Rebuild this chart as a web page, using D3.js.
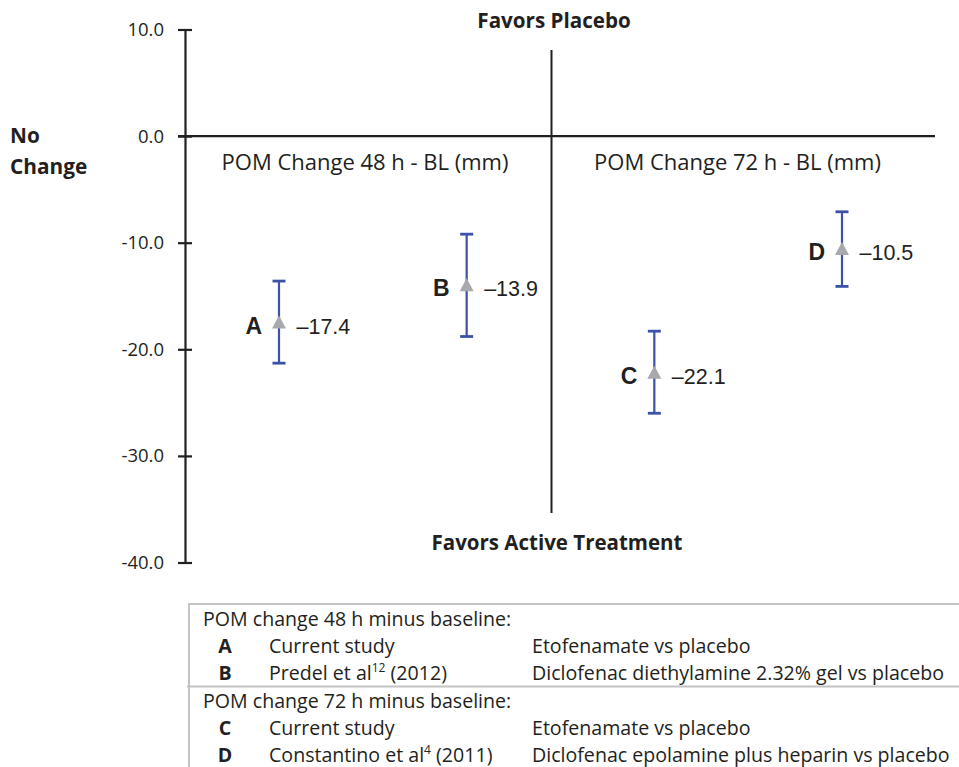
<!DOCTYPE html>
<html><head><meta charset="utf-8">
<script src="https://cdn.jsdelivr.net/npm/d3@7"></script>
<style>body{margin:0;background:#fff;} svg{display:block;}</style>
</head><body>
<svg id="c" width="959" height="767"></svg>
<script>
const studies = ["A","B","C","D"];
const groups = ["48 h","48 h","72 h","72 h"];
const means = [-17.4,-13.9,-22.1,-10.5];
const lower = [-21.3,-18.8,-26.0,-14.1];
const upper = [-13.6,-9.2,-18.3,-7.1];
const valueLabels = ["\u201317.4","\u201313.9","\u201322.1","\u201310.5"];
const yTicks = [10,0,-10,-20,-30,-40];
const panelTitles = ["POM Change 48 h - BL (mm)","POM Change 72 h - BL (mm)"];
const legendHeaders = ["POM change 48 h minus baseline:","POM change 72 h minus baseline:"];
const legendStudies = ["Current study","Predel et al","Current study","Constantino et al"];
const legendRefs = ["","12","","4"];
const legendYears = [""," (2012)",""," (2011)"];
const legendTreat = ["Etofenamate vs placebo","Diclofenac diethylamine 2.32% gel vs placebo","Etofenamate vs placebo","Diclofenac epolamine plus heparin vs placebo"];

const svg = d3.select("#c");
const CAL = "'Open Sans', 'Noto Sans', sans-serif";
const ARI = "'Liberation Sans', Arial, sans-serif";
const ink = "#231f20";

const y = d3.scaleLinear().domain([-40,10]).range([562.5,29.5]);
const x = d3.scalePoint().domain(studies).range([279,842]);
const axisX = 185;

// y axis
const ax = svg.append("g").attr("transform",`translate(${axisX},0)`)
  .call(d3.axisLeft(y).tickValues(yTicks).tickFormat(d=>d.toFixed(1)).tickSizeOuter(0).tickSize(7).tickPadding(14));
ax.select(".domain").attr("stroke",ink).attr("stroke-width",2.2);
ax.selectAll(".tick line").attr("x1",-7).attr("x2",7).attr("stroke",ink).attr("stroke-width",2.2);
ax.selectAll(".tick text").attr("font-family",CAL).attr("font-size",18.5).attr("fill",ink);

// zero line
svg.append("line").attr("x1",178).attr("x2",935).attr("y1",y(0)).attr("y2",y(0))
  .attr("stroke",ink).attr("stroke-width",2.2);
// vertical divider
svg.append("line").attr("x1",551.5).attr("x2",551.5).attr("y1",50).attr("y2",513)
  .attr("stroke",ink).attr("stroke-width",2);

// titles
svg.append("text").attr("x",554).attr("y",28).attr("text-anchor","middle")
  .attr("font-family",CAL).attr("font-weight","bold").attr("font-size",20.6).attr("fill",ink).text("Favors Placebo");
svg.append("text").attr("x",557).attr("y",550).attr("text-anchor","middle")
  .attr("font-family",CAL).attr("font-weight","bold").attr("font-size",20.5).attr("fill",ink).text("Favors Active Treatment");
const nc = svg.append("text").attr("font-family",CAL).attr("font-weight","bold").attr("font-size",20.8).attr("fill",ink);
nc.append("tspan").attr("x",10).attr("y",143).text("No");
nc.append("tspan").attr("x",10).attr("y",174).text("Change");

svg.selectAll(".ptitle").data(panelTitles).enter().append("text")
  .attr("x",(d,i)=>i===0?365:737.5).attr("y",170).attr("text-anchor","middle")
  .attr("font-family",CAL).attr("font-size",22).attr("fill",ink).text(d=>d);

// error bars
const blue = "#3b52a8";
const g = svg.append("g");
studies.forEach((s,i)=>{
  const cx = x(s);
  g.append("line").attr("x1",cx).attr("x2",cx).attr("y1",y(upper[i])).attr("y2",y(lower[i]))
    .attr("stroke",blue).attr("stroke-width",2.2);
  [upper[i],lower[i]].forEach(v=>{
    g.append("line").attr("x1",cx-6.5).attr("x2",cx+6.5).attr("y1",y(v)).attr("y2",y(v))
      .attr("stroke",blue).attr("stroke-width",2.8);
  });
  const ty = y(means[i]);
  g.append("path").attr("d",`M${cx},${ty-6}L${cx+7},${ty+7}L${cx-7},${ty+7}Z`).attr("fill","#a7a9ac");
  g.append("text").attr("x",cx-17).attr("y",ty+12).attr("text-anchor","end")
    .attr("font-family",ARI).attr("font-weight","bold").attr("font-size",23).attr("fill",ink).text(s);
  g.append("text").attr("x",cx+17.5).attr("y",ty+12)
    .attr("font-family",ARI).attr("font-size",21.5).attr("fill",ink).text(valueLabels[i]);
});

// legend table
const lg = svg.append("g");
const gray = "#c3c3c3";
lg.append("line").attr("x1",189).attr("x2",959).attr("y1",604).attr("y2",604).attr("stroke",gray).attr("stroke-width",2);
lg.append("line").attr("x1",189).attr("x2",189).attr("y1",603).attr("y2",767).attr("stroke",gray).attr("stroke-width",2);
lg.append("line").attr("x1",187).attr("x2",959).attr("y1",686.5).attr("y2",686.5).attr("stroke",gray).attr("stroke-width",2);

const fs = 19.6;
const headerY = [626,708];
legendHeaders.forEach((h,k)=>{
  lg.append("text").attr("x",203).attr("y",headerY[k]).attr("font-family",CAL).attr("font-size",fs).attr("fill",ink).text(h);
});
const rowY = [653,680,735,762];
studies.forEach((s,i)=>{
  lg.append("text").attr("x",225).attr("y",rowY[i]).attr("text-anchor","middle")
    .attr("font-family",CAL).attr("font-weight","bold").attr("font-size",fs).attr("fill",ink).text(s);
  const t = lg.append("text").attr("x",269).attr("y",rowY[i]).attr("font-family",CAL).attr("font-size",fs).attr("fill",ink);
  t.append("tspan").text(legendStudies[i]);
  if (legendRefs[i]) t.append("tspan").attr("font-size",12).attr("dy",-8).text(legendRefs[i]);
  if (legendYears[i]) t.append("tspan").attr("dy",8).text(legendYears[i]);
  lg.append("text").attr("x",532).attr("y",rowY[i]).attr("font-family",CAL).attr("font-size",fs).attr("fill",ink).text(legendTreat[i]);
});
</script>
</body></html>
